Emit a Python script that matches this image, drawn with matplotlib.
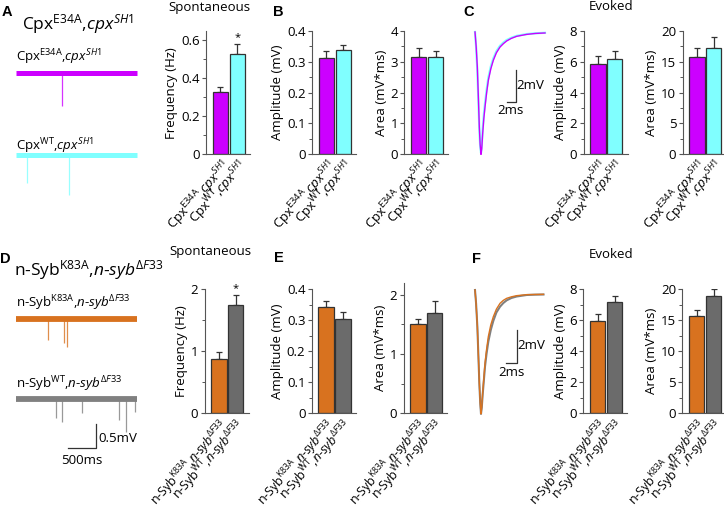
import numpy as np
import matplotlib
matplotlib.use('Agg')
import matplotlib.pyplot as plt
from matplotlib.ticker import MultipleLocator, FuncFormatter

plt.rcParams['font.family'] = ['Open Sans', 'DejaVu Sans']
plt.rcParams['mathtext.fontset'] = 'custom'
plt.rcParams['mathtext.rm'] = 'Open Sans'
plt.rcParams['mathtext.it'] = 'Open Sans:italic'
plt.rcParams['mathtext.bf'] = 'Open Sans:bold'

W, H = 724, 508

# colours
MAG = '#cc00ff'
CYAN = '#80ffff'
ORANGE = '#d8721f'
GRAY = '#6b6b6b'
TRACE_GRAY = '#808080'
EDGE = '#333333'

# ---------------- Cpx (top row) ----------------
cpx_labels = [r'Cpx$^{\mathrm{E34A}}$,$\mathit{cpx}^{\mathit{SH1}}$',
              r'Cpx$^{\mathrm{WT}}$,$\mathit{cpx}^{\mathit{SH1}}$']
cpx_freq = [0.33, 0.53]
cpx_freq_err = [0.027, 0.05]
cpx_amp = [0.314, 0.337]
cpx_amp_err = [0.021, 0.019]
cpx_area = [3.15, 3.15]
cpx_area_err = [0.29, 0.2]
cpx_ev_amp = [5.84, 6.17]
cpx_ev_amp_err = [0.54, 0.53]
cpx_ev_area = [15.8, 17.3]
cpx_ev_area_err = [1.5, 1.8]

# spontaneous traces (ms, mV)
spont_len = 2160
cpx_e34a_spike_t = [821]
cpx_e34a_spike_amp = [0.70]
cpx_wt_spike_t = [196, 947]
cpx_wt_spike_amp = [0.58, 0.83]

# evoked traces (ms, mV)
cpx_ev_t = [0, 0.25, 0.5, 0.75, 0.93, 1.1, 1.29, 1.45, 1.65, 1.9, 2.15, 2.5, 2.87, 3.4, 3.94,
            4.6, 5.38, 6.1, 6.81, 7.8, 8.96, 11.1, 13.0, 15.05]
cpx_e34a_ev = [0, -0.9, -2.19, -4.3, -5.94, -7.0, -7.65, -7.3, -6.35, -5.4, -4.69, -3.8,
               -3.02, -2.3, -1.77, -1.3, -0.94, -0.73, -0.56, -0.4, -0.27, -0.15, -0.09, -0.06]
cpx_wt_ev = [0, -1.0, -2.4, -4.5, -6.1, -7.1, -7.55, -7.1, -6.1, -5.15, -4.45, -3.6,
             -2.85, -2.15, -1.65, -1.2, -0.86, -0.66, -0.5, -0.36, -0.24, -0.13, -0.08, -0.05]

# ---------------- n-Syb (bottom row) ----------------
syb_labels = [r'n-Syb$^{\mathrm{K83A}}$,$\mathit{n}$-$\mathit{syb}^{\mathit{\Delta F33}}$',
              r'n-Syb$^{\mathrm{WT}}$,$\mathit{n}$-$\mathit{syb}^{\mathit{\Delta F33}}$']
syb_freq = [0.88, 1.74]
syb_freq_err = [0.11, 0.16]
syb_amp = [0.341, 0.303]
syb_amp_err = [0.02, 0.023]
syb_area = [1.5, 1.69]
syb_area_err = [0.1, 0.2]
syb_ev_amp = [5.94, 7.14]
syb_ev_amp_err = [0.45, 0.41]
syb_ev_area = [15.6, 18.9]
syb_ev_area_err = [1.1, 1.1]

syb_k83a_spike_t = [577, 863, 916]
syb_k83a_spike_amp = [0.44, 0.51, 0.59]
syb_wt_spike_t = [714, 816, 1184, 1845, 1965, 2125]
syb_wt_spike_amp = [0.41, 0.48, 0.30, 0.44, 0.69, 0.27]

syb_ev_t = [0, 0.2, 0.44, 0.65, 0.81, 0.98, 1.12, 1.27, 1.43, 1.65, 1.87, 2.15, 2.49, 2.95,
            3.43, 4.0, 4.68, 5.3, 5.92, 6.8, 7.79, 9.66, 11.2, 12.8]
syb_k83a_ev = [0, -0.8, -2.2, -4.1, -5.6, -6.8, -7.44, -7.0, -6.2, -5.3, -4.4, -3.6, -2.8,
               -2.1, -1.6, -1.15, -0.8, -0.62, -0.5, -0.41, -0.34, -0.28, -0.27, -0.26]
syb_wt_ev = [0, -0.8, -2.2, -4.1, -5.6, -6.8, -7.44, -7.05, -6.3, -5.45, -4.6, -3.85, -3.1,
             -2.4, -1.85, -1.35, -1.0, -0.78, -0.62, -0.48, -0.39, -0.3, -0.28, -0.27]

fig = plt.figure(figsize=(W / 100, H / 100), dpi=100)


def px(x0, y0, x1, y1):
    # pixel box (top-left origin) -> figure fraction
    return [x0 / W, 1 - y1 / H, (x1 - x0) / W, (y1 - y0) / H]


def fmt_tick(v, pos):
    if abs(v) < 1e-9:
        return '0'
    return '{:g}'.format(round(v, 4))


def bar_panel(rect, vals, errs, colors, top, major, minor, ylabel, labels, star=None,
              lab_size=9.5):
    ax = fig.add_axes(px(*rect))
    x = np.arange(len(vals))
    ax.bar(x, vals, width=0.9, color=colors, edgecolor=EDGE, linewidth=0.9, zorder=2)
    ax.errorbar(x, vals, yerr=[np.zeros(len(errs)), errs], fmt='none', ecolor=EDGE,
                elinewidth=0.9, capsize=2, capthick=0.9, zorder=1)
    ax.set_xlim(-0.85, 1.75)
    ax.set_ylim(0, top)
    ax.yaxis.set_major_locator(MultipleLocator(major))
    ax.yaxis.set_minor_locator(MultipleLocator(minor))
    ax.yaxis.set_major_formatter(FuncFormatter(fmt_tick))
    ax.set_xticks(x)
    ax.set_xticklabels(labels, rotation=48, ha='right', rotation_mode='anchor',
                       fontsize=lab_size)
    ax.tick_params(axis='x', length=0, pad=2)
    ax.tick_params(axis='y', which='major', length=3, width=0.8, color='#555555',
                   labelsize=9.5, pad=1.5)
    ax.tick_params(axis='y', which='minor', length=2, width=0.7, color='#555555')
    for s in ['top', 'right']:
        ax.spines[s].set_visible(False)
    for s in ['left', 'bottom']:
        ax.spines[s].set_color('#555555')
        ax.spines[s].set_linewidth(0.8)
    ax.set_ylabel(ylabel, fontsize=9.5, labelpad=2)
    ax.patch.set_alpha(0)
    if star is not None:
        ax.text(star, vals[1] + errs[1] + top * 0.01, '*', ha='center', va='bottom',
                fontsize=8, clip_on=False)
    return ax


def spont_panel(rect, xlim, ylim, base, t_spikes, amps, color, lw_band):
    ax = fig.add_axes(px(*rect))
    for b, ts, am, c in zip(base, t_spikes, amps, color):
        ax.plot([0, spont_len], [b, b], color=c, lw=lw_band, solid_capstyle='butt')
        ax.vlines(ts, b, [b - a for a in am], color=c, lw=0.9, alpha=0.8)
    ax.set_xlim(*xlim)
    ax.set_ylim(*ylim)
    ax.axis('off')
    return ax


# ---- top row bar charts
bar_panel((206, 31, 250, 154.3), cpx_freq, cpx_freq_err, [MAG, CYAN], 0.65, 0.2, 0.1,
          'Frequency (Hz)', cpx_labels, star=1)
bar_panel((312, 31, 356, 154.3), cpx_amp, cpx_amp_err, [MAG, CYAN], 0.4, 0.1, 0.05,
          'Amplitude (mV)', cpx_labels)
bar_panel((404.5, 31, 448.5, 154.3), cpx_area, cpx_area_err, [MAG, CYAN], 4, 1, 0.5,
          'Area (mV*ms)', cpx_labels)
bar_panel((583.5, 31, 627.5, 154.3), cpx_ev_amp, cpx_ev_amp_err, [MAG, CYAN], 8, 2, 1,
          'Amplitude (mV)', cpx_labels)
bar_panel((682.5, 31, 726.5, 154.3), cpx_ev_area, cpx_ev_area_err, [MAG, CYAN], 20, 5, 2.5,
          'Area (mV*ms)', cpx_labels)

# ---- bottom row bar charts
bar_panel((204.5, 289, 248.5, 413.3), syb_freq, syb_freq_err, [ORANGE, GRAY], 2, 1, 0.5,
          'Frequency (Hz)', syb_labels, star=1, lab_size=9)
bar_panel((311.7, 289, 355.7, 413.3), syb_amp, syb_amp_err, [ORANGE, GRAY], 0.4, 0.1, 0.05,
          'Amplitude (mV)', syb_labels, lab_size=9)
bar_panel((403.5, 283, 447.5, 413.3), syb_area, syb_area_err, [ORANGE, GRAY], 2.2, 1, 0.5,
          'Area (mV*ms)', syb_labels, lab_size=9)
bar_panel((583.3, 289, 627.3, 413.3), syb_ev_amp, syb_ev_amp_err, [ORANGE, GRAY], 8, 2, 1,
          'Amplitude (mV)', syb_labels, lab_size=9)
bar_panel((682.3, 289, 726.3, 413.3), syb_ev_area, syb_ev_area_err, [ORANGE, GRAY], 20, 5, 2.5,
          'Area (mV*ms)', syb_labels, lab_size=9)

# ---- spontaneous traces
ms_px = 500 / 28.0
mv_px = 0.5 / 24.0
spont_panel((10, 60, 145, 200), ((10 - 16) * ms_px, (145 - 16) * ms_px),
            (-(200 - 72.5) * mv_px, (72.5 - 60) * mv_px),
            [0, -(155 - 72.5) * mv_px], [cpx_e34a_spike_t, cpx_wt_spike_t],
            [cpx_e34a_spike_amp, cpx_wt_spike_amp], [MAG, CYAN], 3.6)
axD = spont_panel((10, 300, 145, 470), ((10 - 16) * ms_px, (145 - 16) * ms_px),
                  (-(470 - 318.8) * mv_px, (318.8 - 300) * mv_px),
                  [0, -(398.8 - 318.8) * mv_px], [syb_k83a_spike_t, syb_wt_spike_t],
                  [syb_k83a_spike_amp, syb_wt_spike_amp], [ORANGE, TRACE_GRAY], 4.2)
sb_y = -(448 - 318.8) * mv_px
sb_x = (95.7 - 16) * ms_px
axD.plot([sb_x - 500, sb_x, sb_x], [sb_y, sb_y, sb_y + 0.5], color=EDGE, lw=0.9)
axD.text(sb_x + 40, sb_y + 0.2, '0.5mV', fontsize=9.5, va='center', ha='left')
axD.text(sb_x - 250, sb_y - 0.12, '500ms', fontsize=9.5, va='top', ha='center')

# ---- evoked traces
axC = fig.add_axes(px(470, 25, 560, 160))
axC.plot(cpx_ev_t, cpx_wt_ev, color=CYAN, lw=1.6)
axC.plot(cpx_ev_t, cpx_e34a_ev, color=MAG, lw=1.0)
c_ms = 2 / 9.3
c_mv = 2 / 32.0
axC.set_xlim((470 - 475) * c_ms, (560 - 475) * c_ms)
axC.set_ylim(-(160 - 32) * c_mv, (32 - 25) * c_mv)
cx = (516 - 475) * c_ms
cy = -(102 - 32) * c_mv
axC.plot([cx - 2, cx, cx], [cy, cy, cy + 2], color=EDGE, lw=0.9)
axC.text(cx + 0.15, cy + 1.05, '2mV', fontsize=9.5, va='center', ha='left')
axC.text(cx - 1.1, cy - 0.15, '2ms', fontsize=9.5, va='top', ha='center')
axC.axis('off')

axF = fig.add_axes(px(470, 283, 560, 420))
axF.plot(syb_ev_t, syb_wt_ev, color=TRACE_GRAY, lw=1.5)
axF.plot(syb_ev_t, syb_k83a_ev, color=ORANGE, lw=1.0)
f_ms = 2 / 10.7
f_mv = 2 / 33.3
axF.set_xlim((470 - 475) * f_ms, (560 - 475) * f_ms)
axF.set_ylim(-(420 - 290) * f_mv, (290 - 283) * f_mv)
fx = (516.7 - 475) * f_ms
fy = -(363.3 - 290) * f_mv
axF.plot([fx - 2, fx, fx], [fy, fy, fy + 2], color=EDGE, lw=0.9)
axF.text(fx + 0.15, fy + 1.05, '2mV', fontsize=9.5, va='center', ha='left')
axF.text(fx - 1.0, fy - 0.15, '2ms', fontsize=9.5, va='top', ha='center')
axF.axis('off')


# ---- texts
def ftext(x, y, s, **kw):
    fig.text(x / W, 1 - y / H, s, **kw)


for lab, (x, y) in zip('ABCDEF', [(2, 11.5), (273, 11.5), (463, 11.5),
                                  (0, 259), (274, 258.5), (472, 259)]):
    ftext(x, y, lab, fontsize=10.5, fontweight='bold', family='Liberation Sans',
          va='center', ha='left')

ftext(209, 8, 'Spontaneous', fontsize=9.5, ha='center', va='center')
ftext(611, 7, 'Evoked', fontsize=9.5, ha='center', va='center')
ftext(210, 252, 'Spontaneous', fontsize=9.5, ha='center', va='center')
ftext(611, 254, 'Evoked', fontsize=9.5, ha='center', va='center')

ftext(22, 29, cpx_labels[0], fontsize=12.5, ha='left', va='baseline')
ftext(14, 275, syb_labels[0], fontsize=12.5, ha='left', va='baseline')

ftext(16, 61.5, cpx_labels[0], fontsize=9.5, ha='left', va='baseline')
ftext(16, 150, cpx_labels[1], fontsize=9.5, ha='left', va='baseline')
ftext(16, 307, syb_labels[0], fontsize=9.5, ha='left', va='baseline')
ftext(16, 388, syb_labels[1], fontsize=9.5, ha='left', va='baseline')

fig.savefig('out.png', dpi=100)
